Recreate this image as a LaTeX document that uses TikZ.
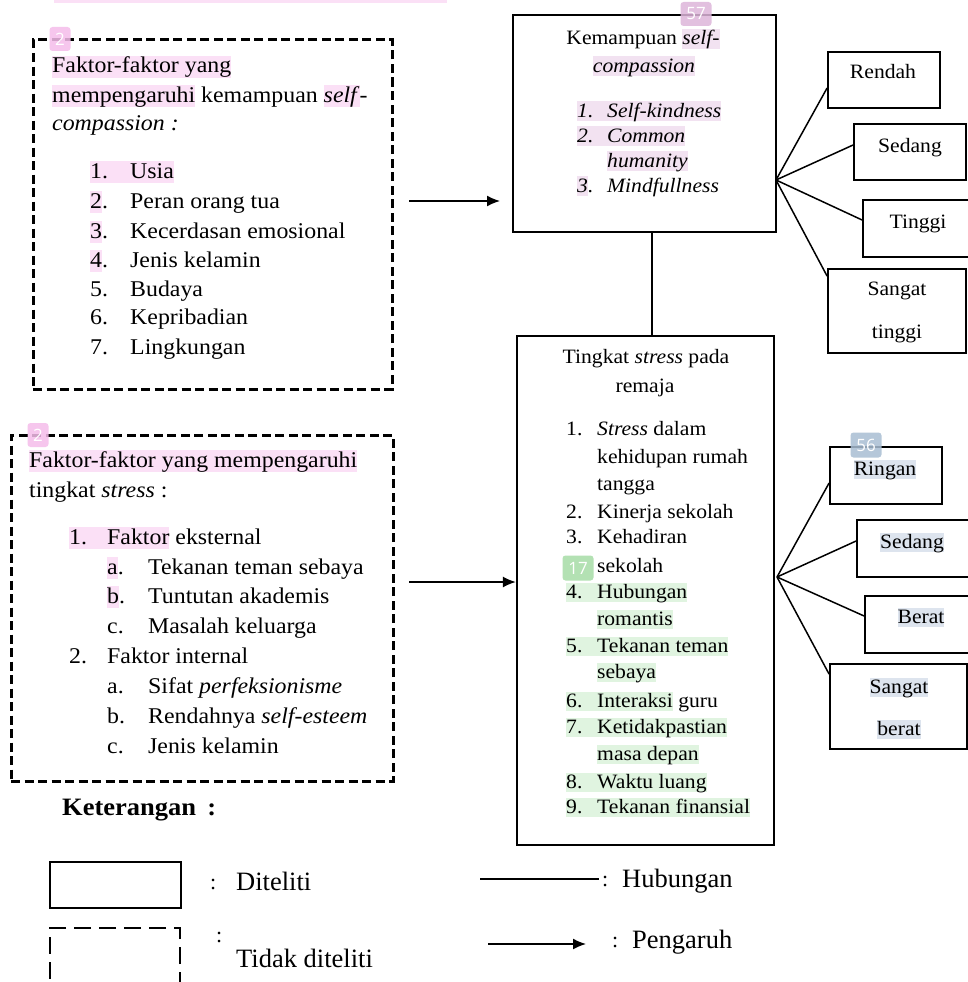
\documentclass[tikz,border=0pt]{standalone}
\usepackage{fontspec}
\setmainfont{Liberation Serif}[FakeStretch=1.06]
\newfontfamily\legf{Liberation Serif}
\newfontfamily\badgef{Open Sans}
\usetikzlibrary{arrows.meta}
\definecolor{hlp}{HTML}{FBE0F6}
\definecolor{hlm}{HTML}{F2E2F1}
\definecolor{hlg}{HTML}{E0F4E0}
\definecolor{hlb}{HTML}{DDE4EE}
\definecolor{bgp}{HTML}{F5BDEB}
\definecolor{bgm}{HTML}{DDB5DA}
\definecolor{bgb}{HTML}{A9BED3}
\definecolor{bgg}{HTML}{A6DCA6}
\newcommand\hs{\rule[-0.22em]{0pt}{0.98em}}
\newcommand\hl[2][hlp]{{\setlength{\fboxsep}{0pt}\colorbox{#1}{\hs#2}}}
\newcommand\nb[2]{\makebox[#1][l]{#2}}
\begin{document}
\begin{tikzpicture}[x=1pt,y=-1pt,
 t/.style={anchor=base west,inner sep=0pt},
 tc/.style={anchor=base,inner sep=0pt},
 fa/.style={font=\fontsize{22.5}{27}\selectfont},
 fb/.style={font=\fontsize{20.4}{25}\selectfont},
 fl/.style={font=\legf\fontsize{26.5}{30}\selectfont},
 fcol/.style={font=\legf\fontsize{22}{26}\selectfont},
 dbox/.style={draw,line width=3pt,dash pattern=on 9pt off 4.5pt,inner sep=0pt},
 sbox/.style={draw,line width=2.3pt,inner sep=0pt},
 rbox/.style={draw,line width=1.8pt,inner sep=0pt},
 ln/.style={line width=1.5pt},
 arr/.style={line width=1.5pt,-{Latex[length=13pt,width=11pt]}},
 badge/.style={rounded corners=3pt,inner sep=0pt,text=white,font=\badgef\fontsize{17}{19}\selectfont,fill opacity=0.85,text opacity=1}
]
\fill[white] (0,0) rectangle (967,982);
\useasboundingbox (0,0) rectangle (967,982);
\fill[hlp] (54,0) rectangle (447,3);

% boxes
\node[dbox,minimum width=359pt,minimum height=349pt] (f1) at (212.5,214.5) {};
\node[dbox,minimum width=382pt,minimum height=346pt] (f2) at (202,608) {};
\node[sbox,minimum width=263pt,minimum height=217pt] (sc) at (644.5,123.5) {};
\node[sbox,minimum width=257pt,minimum height=509pt] (st) at (645.5,590.5) {};
\node[rbox,minimum width=112pt,minimum height=56pt] (r1) at (884,80) {};
\node[rbox,minimum width=112pt,minimum height=56pt] (r2) at (910,152) {};
\node[rbox,minimum width=112pt,minimum height=57pt] (r3) at (919,228.5) {};
\node[rbox,minimum width=138pt,minimum height=84pt] (r4) at (897,311) {};
\node[rbox,minimum width=112pt,minimum height=57pt] (s1) at (886,475.5) {};
\node[rbox,minimum width=118pt,minimum height=57pt] (s2) at (916,548.5) {};
\node[rbox,minimum width=112pt,minimum height=57pt] (s3) at (921,624.5) {};
\node[rbox,minimum width=137pt,minimum height=85pt] (s4) at (898.5,706.5) {};

% connectors
\coordinate (so) at (776,180);
\draw[ln] (so) -- ([yshift=-8pt]r1.west);
\draw[ln] (so) -- ([yshift=7pt]r2.west);
\draw[ln] (so) -- ([yshift=8.5pt]r3.west);
\draw[ln] (so) -- ([yshift=-8pt]r4.north west);
\coordinate (so2) at (777,577);
\draw[ln] (so2) -- ([yshift=-7.5pt]s1.west);
\draw[ln] (so2) -- ([yshift=7.5pt]s2.west);
\draw[ln] (so2) -- ([yshift=8.5pt]s3.west);
\draw[ln] (so2) -- ([yshift=-11pt]s4.north west);
\coordinate (vx) at (652,0);
\draw[ln] (sc.south -| vx) -- (st.north -| vx);
\coordinate (a1s) at (409,201);
\coordinate (a1e) at (500,201);
\draw[arr] (a1s) -- (a1e);
\coordinate (a2s) at (409,582);
\draw[arr] (a2s) -- (a2s -| st.west);

% box 1 text
\node[t,fa] (f1a) at (52,73) {\hl{Faktor-faktor yang}};
\node[t,fa] (f1b) at (52,102) {\hl{mempengaruhi} kemampuan \hl{\textit{self}}\textit{-}};
\node[t,fa] (f1c) at (52,130) {\textit{compassion :}};
\node[t,fa] (f1l1) at (90,178) {\hl{\nb{40pt}{1.}Usia}};
\node[t,fa] (f1l2) at (90,208) {\nb{40pt}{\hl{2}.}Peran orang tua};
\node[t,fa] (f1l3) at (90,238) {\nb{40pt}{\hl{3}.}Kecerdasan emosional};
\node[t,fa] (f1l4) at (90,267) {\nb{40pt}{\hl{4}.}Jenis kelamin};
\node[t,fa] (f1l5) at (90,296) {\nb{40pt}{5.}Budaya};
\node[t,fa] (f1l6) at (90,324) {\nb{40pt}{6.}Kepribadian};
\node[t,fa] (f1l7) at (90,354) {\nb{40pt}{7.}Lingkungan};

% box 2 text
\node[t,fa] (f2a) at (29,467) {\hl{Faktor-faktor yang mempengaruhi}};
\node[t,fa] (f2b) at (29,497) {tingkat \textit{stress} :};
\node[t,fa] (f2l1) at (69,544) {\hl{\nb{38pt}{1.}Faktor} eksternal};
\node[t,fa] (f2l2) at (107,574) {\nb{41pt}{\hl{a}.}Tekanan teman sebaya};
\node[t,fa] (f2l3) at (107,603) {\nb{41pt}{\hl{b}.}Tuntutan akademis};
\node[t,fa] (f2l4) at (107,633) {\nb{41pt}{c.}Masalah keluarga};
\node[t,fa] (f2l5) at (69,663) {\nb{38pt}{2.}Faktor internal};
\node[t,fa] (f2l6) at (107,693) {\nb{41pt}{a.}Sifat \textit{perfeksionisme}};
\node[t,fa] (f2l7) at (107,723) {\nb{41pt}{b.}Rendahnya \textit{self-esteem}};
\node[t,fa] (f2l8) at (107,753) {\nb{41pt}{c.}Jenis kelamin};

% self-compassion box text
\node[tc,fb] (sca) at (643,45) {Kemampuan \hl[hlm]{\textit{self-}}};
\node[tc,fb] (scb) at (644,72) {\hl[hlm]{\textit{compassion}}};
\node[t,fb] (scl1) at (577,117) {\hl[hlm]{\textit{\nb{30pt}{1.}Self-kindness}}};
\node[t,fb] (scl2) at (577,142) {\hl[hlm]{\textit{\nb{30pt}{2.}Common}}};
\node[t,fb] (scl2b) at (607,167) {\hl[hlm]{\textit{humanity}}};
\node[t,fb] (scl3) at (577,192) {\textit{\nb{30pt}{\hl[hlm]{3}.}Mindfullness}};

% stress box text
\node[tc,fb] (sta) at (646,363) {Tingkat \textit{stress} pada};
\node[tc,fb] (stb) at (645,392) {remaja};
\node[t,fb] (stl1) at (566,435) {\nb{31pt}{1.}\textit{Stress} dalam};
\node[t,fb] (stl1b) at (597,463) {kehidupan rumah};
\node[t,fb] (stl1c) at (597,490) {tangga};
\node[t,fb] (stl2) at (566,518) {\nb{31pt}{2.}Kinerja sekolah};
\node[t,fb] (stl3) at (566,543) {\nb{31pt}{3.}Kehadiran};
\node[t,fb] (stl3b) at (597,572) {sekolah};
\node[t,fb] (stl4) at (566,598) {\hl[hlg]{\nb{31pt}{4.}Hubungan}};
\node[t,fb] (stl4b) at (597,625) {\hl[hlg]{romantis}};
\node[t,fb] (stl5) at (566,652) {\hl[hlg]{\nb{31pt}{5.}Tekanan teman}};
\node[t,fb] (stl5b) at (597,678) {\hl[hlg]{sebaya}};
\node[t,fb] (stl6) at (566,707) {\hl[hlg]{\nb{31pt}{6.}Interaksi} guru};
\node[t,fb] (stl7) at (566,733) {\hl[hlg]{\nb{31pt}{7.}Ketidakpastian}};
\node[t,fb] (stl7b) at (597,760) {\hl[hlg]{masa depan}};
\node[t,fb] (stl8) at (566,788) {\hl[hlg]{\nb{31pt}{8.}Waktu luang}};
\node[t,fb] (stl9) at (566,813) {\hl[hlg]{\nb{31pt}{9.}Tekanan finansial}};

% right labels
\node[tc,fb] (r1t) at (883,78) {Rendah};
\node[tc,fb] (r2t) at (910,152) {Sedang};
\node[tc,fb] (r3t) at (918,228) {Tinggi};
\node[tc,fb] (r4t) at (897,295) {Sangat};
\node[tc,fb] (r4u) at (897,338) {tinggi};
\node[tc,fb] (s1t) at (885,475) {\hl[hlb]{Ringan}};
\node[tc,fb] (s2t) at (912,548) {\hl[hlb]{Sedang}};
\node[tc,fb] (s3t) at (921,623) {\hl[hlb]{Berat}};
\node[tc,fb] (s4t) at (899,693) {\hl[hlb]{Sangat}};
\node[tc,fb] (s4u) at (899,735) {\hl[hlb]{berat}};

% legend
\node[t,font=\bfseries\fontsize{25}{30}\selectfont] (ket) at (62,815) {Keterangan\hspace{0.45em}:};
\node[sbox,line width=1.8pt,minimum width=131pt,minimum height=46pt] (lg1) at (115.5,885) {};
\node[draw,line width=1.6pt,dash pattern=on 17pt off 8pt,inner sep=0pt,minimum width=130pt,minimum height=56pt] (lg2) at (115,956) {};
\node[t,fcol] (c1) at (210,889) {:};
\node[t,fl] (lt1) at (236,890) {Diteliti};
\node[t,fcol] (c2) at (216,942) {:};
\node[t,fl] (lt2) at (236,967) {Tidak diteliti};
\coordinate (h1) at (480,879);
\coordinate (h2) at (599,879);
\draw[ln] (h1) -- (h2);
\node[t,fcol] (c3) at (602,886) {:};
\node[t,fl] (lt3) at (622,887) {Hubungan};
\coordinate (p1) at (488,944);
\coordinate (p2) at (586,944);
\draw[arr] (p1) -- (p2);
\node[t,fcol] (c4) at (612,947) {:};
\node[t,fl] (lt4) at (632,948) {Pengaruh};

% badges
\node[badge,fill=bgp,minimum width=21pt,minimum height=24pt] (b1) at (60,39) {2};
\node[badge,fill=bgp,minimum width=21pt,minimum height=24pt] (b2) at (38,435) {2};
\node[badge,fill=bgm,minimum width=31pt,minimum height=24pt] (b3) at (696,14) {57};
\node[badge,fill=bgb,minimum width=31pt,minimum height=25pt] (b4) at (866,445) {56};
\node[badge,fill=bgg,minimum width=31pt,minimum height=25pt] (b5) at (578,568) {17};
\end{tikzpicture}
\end{document}
